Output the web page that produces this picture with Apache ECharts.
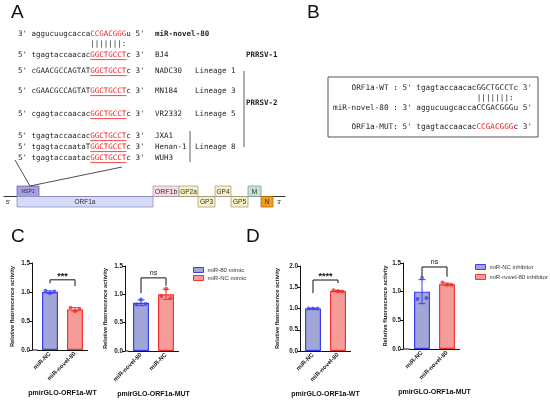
<!DOCTYPE html>
<html>
<head>
<meta charset="utf-8">
<script src="https://cdn.jsdelivr.net/npm/echarts@6.0.0/dist/echarts.min.js"></script>
<style>html,body{margin:0;padding:0;background:#fff;}#chart{width:550px;height:401px;}</style>
</head>
<body>
<div id="chart"></div>
<script>
// ---------------- Panel A: target-site alignment ----------------
const mirName = 'miR-novel-80';
const mirSeq = ['aggucuugcacca', 'CCGACGGG', 'u'];
const pairing = '|||||||:';
const strainNames = ['BJ4', 'NADC30', 'MN184', 'VR2332', 'JXA1', 'Henan-1', 'WUH3'];
const strainPrefix = ['tgagtaccaacac', 'cGAACGCCAGTAT', 'cGAACGCCAGTAT', 'cgagtaccaacac', 'tgagtaccaacac', 'tgagtaccaataT', 'tgagtaccaatac'];
const strainSite = 'GGCTGCCT';
const strainSuffix = 'c';
const strainLineage = ['', 'Lineage 1', 'Lineage 3', 'Lineage 5', '', 'Lineage 8', ''];
const genotypeLabels = ['PRRSV-1', 'PRRSV-2'];

// genome map (relative positions along the genome)
const geneNames = ['NSP1', 'ORF1a', 'ORF1b', 'GP2a', 'GP3', 'GP4', 'GP5', 'M', 'N'];
const geneStart = [13, 13, 149, 175, 194, 211, 227, 244, 257];
const geneEnd = [35, 149, 175, 194, 211, 227, 244, 257, 269];
const geneRow = [1, -1, 1, 1, -1, 1, -1, 1, -1];
const genomeLength = 281;

// ---------------- Panel B ----------------
const bTags = ['ORF1a-WT', 'miR-novel-80', 'ORF1a-MUT'];
const bEnds = [["5'", "3'"], ["3'", "5'"], ["5'", "3'"]];
const bSeq = [['tgagtaccaacac', 'GGCTGCCT', 'c'], ['aggucuugcacca', 'CCGACGGG', 'u'], ['tgagtaccaacac', 'CCGACGGG', 'c']];

// ---------------- Panel C ----------------
const cWtCats = ['miR-NC', 'miR-novel-80'];
const cWtMeans = [1.00, 0.70];
const cWtSD = [0.02, 0.03];
const cWtPoints = [[1.02, 0.98, 1.01], [0.73, 0.67, 0.71]];
const cWtSig = '***';
const cWtBracket = [1.21, 1.15, 1.10];

const cMutCats = ['miR-novel-80', 'miR-NC'];
const cMutMeans = [0.85, 1.00];
const cMutSD = [0.05, 0.09];
const cMutPoints = [[0.82, 0.91, 0.83], [0.97, 1.10, 0.93]];
const cMutSig = 'ns';
const cMutBracket = [1.29, 1.02, 1.15];

const cLegend = ['miR-80 mimic', 'miR-NC mimic'];
const cTitles = ['pmirGLO-ORF1a-WT', 'pmirGLO-ORF1a-MUT'];

// ---------------- Panel D ----------------
const dWtCats = ['miR-NC', 'miR-novel-80'];
const dWtMeans = [1.00, 1.41];
const dWtSD = [0.005, 0.015];
const dWtPoints = [[1.00, 1.00, 1.00], [1.43, 1.41, 1.40]];
const dWtSig = '****';
const dWtBracket = [1.67, 1.36, 1.60];

const dMutCats = ['miR-NC', 'miR-novel-80'];
const dMutMeans = [1.00, 1.13];
const dMutSD = [0.21, 0.02];
const dMutPoints = [[0.87, 1.24, 0.89], [1.16, 1.12, 1.12]];
const dMutSig = 'ns';
const dMutBracket = [1.43, 1.26, 1.26];

const dLegend = ['miR-NC inhibitor', 'miR-novel-80 inhibitor'];
const dTitles = ['pmirGLO-ORF1a-WT', 'pmirGLO-ORF1a-MUT'];

const yTitle = 'Relative fluorescence activity';

// ================= drawing =================
const SANS = '"Liberation Sans", Arial, sans-serif';
const MONO = '"DejaVu Sans Mono", "Liberation Mono", monospace';
const RED = '#f01a1a';
const INK = '#1e1e1e';
const BLUE_FILL = '#a0a7d6', BLUE_LINE = '#3d3df2', BLUE_DOT = '#4040f0';
const RED_FILL = '#f59c99', RED_LINE = '#f23434', RED_DOT = '#f02a2a';

function txt(x, y, text, o) {
  return { type: 'text', x: x, y: y, silent: true, z: 10,
    style: Object.assign({ text: text, fontSize: 7.5, fontFamily: MONO, fill: INK, align: 'left', verticalAlign: 'middle' }, o || {}) };
}
function ln(x1, y1, x2, y2, c, w) {
  return { type: 'line', silent: true, z: 10, shape: { x1: x1, y1: y1, x2: x2, y2: y2 }, style: { stroke: c || INK, lineWidth: w || 0.9 } };
}
function richMono(fs, bold) {
  const base = { fontSize: fs, fontFamily: MONO, fontWeight: bold ? 'bold' : 'normal' };
  return { a: Object.assign({ fill: INK }, base), r: Object.assign({ fill: RED }, base) };
}

const graphics = [];
// panel letters
graphics.push(txt(11, 13, 'A', { fontSize: 19, fontFamily: SANS, fill: '#111' }));
graphics.push(txt(307, 13, 'B', { fontSize: 19, fontFamily: SANS, fill: '#111' }));
graphics.push(txt(11, 237, 'C', { fontSize: 19, fontFamily: SANS, fill: '#111' }));
graphics.push(txt(246, 237, 'D', { fontSize: 19, fontFamily: SANS, fill: '#111' }));

// ---- Panel A text ----
const aX = 18, aCW = 4.515, aFS = 7.5;
graphics.push(txt(aX, 34, "{a|3' " + mirSeq[0] + '}{r|' + mirSeq[1] + '}{a|' + mirSeq[2] + " 5'}", { rich: richMono(aFS) }));
graphics.push(txt(155, 34, mirName, { fontWeight: 'bold' }));
graphics.push(txt(aX + 16 * aCW, 44, pairing, {}));
const aRowY = [55, 71, 91, 114, 136, 147, 158];
strainNames.forEach(function (n, i) {
  const y = aRowY[i];
  graphics.push(txt(aX, y, "{a|5' " + strainPrefix[i] + '}{r|' + strainSite + '}{a|' + strainSuffix + " 3'}", { rich: richMono(aFS) }));
  graphics.push(ln(aX + 16 * aCW, y + 4.6, aX + 24 * aCW, y + 4.6, RED, 0.8));
  graphics.push(txt(155, y, n, {}));
  if (strainLineage[i]) graphics.push(txt(195, y, strainLineage[i], {}));
});
graphics.push(txt(246, 55, genotypeLabels[0], { fontWeight: 'bold' }));
graphics.push(txt(246, 103, genotypeLabels[1], { fontWeight: 'bold' }));
graphics.push(ln(244, 71, 244, 147, '#333', 0.8));
graphics.push(ln(190, 131, 190, 162, '#333', 0.8));
// connectors from sequence block to NSP1
graphics.push(ln(15, 160, 30, 186, '#222', 0.8));
graphics.push(ln(122, 167, 30, 186, '#222', 0.8));
graphics.push(txt(6, 202, "5'", { fontSize: 6, fontFamily: SANS }));
graphics.push(txt(277, 202, "3'", { fontSize: 6, fontFamily: SANS }));

// ---- Panel B ----
const bX = 333, bCW = 4.635, bFS = 7.7;
graphics.push({ type: 'rect', silent: true, z: 9, shape: { x: 328, y: 77, width: 210, height: 60 }, style: { fill: '#fff', stroke: '#555', lineWidth: 1 } });
const bRowY = [88, 108, 127];
bTags.forEach(function (t, i) {
  const head = (t.length >= 12 ? t + ' ' : ('    ' + t + ' ').slice(0, 13)) + ': ' + bEnds[i][0] + ' ';
  const red = i === 2;
  const s = '{a|' + head + bSeq[i][0] + '}' + (red ? '{r|' : '{a|') + bSeq[i][1] + '}{a|' + bSeq[i][2] + ' ' + bEnds[i][1] + '}';
  graphics.push(txt(bX, bRowY[i], s, { rich: richMono(bFS), fontSize: bFS }));
});
graphics.push(txt(bX + 31 * bCW, 98, pairing, { fontSize: bFS }));

// ---- Panels C / D bar charts ----
const charts = [
  { cats: cWtCats, means: cWtMeans, sd: cWtSD, pts: cWtPoints, sig: cWtSig, br: cWtBracket, yMax: 1.5, left: 37.5, axisX: 32, top: 263, height: 87, nameGap: 17, title: cTitles[0], names: cLegend },
  { cats: cMutCats, means: cMutMeans, sd: cMutSD, pts: cMutPoints, sig: cMutSig, br: cMutBracket, yMax: 1.5, left: 128.5, axisX: 125, top: 266, height: 85, nameGap: 17, title: cTitles[1], names: cLegend },
  { cats: dWtCats, means: dWtMeans, sd: dWtSD, pts: dWtPoints, sig: dWtSig, br: dWtBracket, yMax: 2.0, left: 300.5, axisX: 300, top: 266, height: 85, nameGap: 20, title: dTitles[0], names: dLegend },
  { cats: dMutCats, means: dMutMeans, sd: dMutSD, pts: dMutPoints, sig: dMutSig, br: dMutBracket, yMax: 1.5, left: 409.5, axisX: 403, top: 263, height: 86, nameGap: 15, title: dTitles[1], names: dLegend }
];

const grids = [], xAxes = [], yAxes = [], series = [];
const dotOffsets = [-4.5, 0, 4.5];
const lineCols = [BLUE_LINE, RED_LINE];

charts.forEach(function (c, k) {
  grids.push({ left: c.left, top: c.top, width: 50, height: c.height });
  graphics.push(ln(c.axisX, c.top + c.height, c.left, c.top + c.height, '#111', 1));
  xAxes.push({
    type: 'category', gridIndex: k, data: c.cats,
    axisLine: { lineStyle: { color: '#111', width: 1 } },
    axisTick: { alignWithLabel: true, length: 3, lineStyle: { color: '#111' } },
    axisLabel: { rotate: 45, interval: 0, fontSize: 6, fontWeight: 'bold', fontFamily: SANS, color: '#222', margin: 3 },
    name: c.title, nameLocation: 'middle', nameGap: 40,
    nameTextStyle: { fontSize: 7, fontWeight: 'bold', fontFamily: SANS, color: '#111' }
  });
  yAxes.push({
    type: 'value', gridIndex: k, min: 0, max: c.yMax, interval: 0.5, offset: c.left - c.axisX,
    axisLine: { show: true, lineStyle: { color: '#111', width: 1 } },
    axisTick: { show: true, length: 3, lineStyle: { color: '#111' } },
    axisLabel: { fontSize: 6.3, fontWeight: 'bold', fontFamily: SANS, color: '#222', margin: 2, formatter: function (v) { return v.toFixed(1); } },
    splitLine: { show: false },
    name: yTitle, nameLocation: 'middle', nameGap: c.nameGap,
    nameTextStyle: { fontSize: 5.8, fontWeight: 'bold', fontFamily: SANS, color: '#222' }
  });
  [0, 1].forEach(function (b) {
    series.push({
      type: 'bar', name: c.names[b], xAxisIndex: k, yAxisIndex: k, barWidth: 16, barGap: '-100%', silent: true, z: 2,
      data: c.means.map(function (v, i) { return i === b ? v : '-'; }),
      itemStyle: { color: b === 0 ? BLUE_FILL : RED_FILL, borderColor: b === 0 ? BLUE_LINE : RED_LINE, borderWidth: 1.2 }
    });
  });
  series.push({
    type: 'custom', xAxisIndex: k, yAxisIndex: k, silent: true, z: 3,
    data: c.means.map(function (m, i) { return [i, m - c.sd[i], m + c.sd[i]]; }),
    renderItem: function (params, api) {
      const lo = api.coord([api.value(0), api.value(1)]);
      const hi = api.coord([api.value(0), api.value(2)]);
      const col = lineCols[params.dataIndex];
      const st = { stroke: col, lineWidth: 1 };
      return { type: 'group', children: [
        { type: 'line', shape: { x1: lo[0], y1: lo[1], x2: hi[0], y2: hi[1] }, style: st },
        { type: 'line', shape: { x1: hi[0] - 3.5, y1: hi[1], x2: hi[0] + 3.5, y2: hi[1] }, style: st },
        { type: 'line', shape: { x1: lo[0] - 3.5, y1: lo[1], x2: lo[0] + 3.5, y2: lo[1] }, style: st }
      ] };
    }
  });
  const dots = [];
  c.pts.forEach(function (arr, i) {
    arr.forEach(function (v, j) {
      dots.push({ value: [i, v], symbolOffset: [dotOffsets[j], 0], itemStyle: { color: i === 0 ? BLUE_DOT : RED_DOT } });
    });
  });
  series.push({ type: 'scatter', xAxisIndex: k, yAxisIndex: k, symbolSize: 4, silent: true, z: 4, data: dots });
  series.push({
    type: 'custom', xAxisIndex: k, yAxisIndex: k, silent: true, z: 5,
    data: [[0, 1, c.br[0], c.br[1], c.br[2]]],
    renderItem: function (params, api) {
      const pl = api.coord([api.value(0), api.value(3)]);
      const pr = api.coord([api.value(1), api.value(4)]);
      const yt = api.coord([api.value(0), api.value(2)])[1];
      const isStar = c.sig.indexOf('*') >= 0;
      return { type: 'group', children: [
        { type: 'polyline', shape: { points: [[pl[0], pl[1]], [pl[0], yt], [pr[0], yt], [pr[0], pr[1]]] }, style: { stroke: '#111', lineWidth: 1, fill: null } },
        { type: 'text', x: (pl[0] + pr[0]) / 2, y: yt - (isStar ? -1 : 1.5),
          style: { text: c.sig, align: 'center', verticalAlign: 'bottom', fontSize: isStar ? 9 : 7, fontWeight: isStar ? 'bold' : 'normal', fontFamily: SANS, fill: '#111' } }
      ] };
    }
  });
});

// genome map grid
grids.push({ left: 4, top: 186, width: genomeLength, height: 21 });
xAxes.push({ type: 'value', gridIndex: 4, min: 0, max: genomeLength, axisLine: { show: true, onZero: true, lineStyle: { color: '#333', width: 1 } }, axisTick: { show: false }, axisLabel: { show: false }, splitLine: { show: false } });
yAxes.push({ type: 'value', gridIndex: 4, min: -1, max: 1, show: false, splitLine: { show: false } });
const geneStyle = {
  NSP1: { fill: '#a89fe3', stroke: '#6f68b0', fs: 5 },
  ORF1a: { fill: '#d6d9f7', stroke: '#8d91c2', fs: 6.5 },
  ORF1b: { fill: '#f9dbea', stroke: '#b89cad', fs: 7 },
  GP2a: { fill: '#f6f1c8', stroke: '#aaa37c', fs: 6.5 },
  GP3: { fill: '#f6f1c8', stroke: '#aaa37c', fs: 6.5 },
  GP4: { fill: '#f6f1c8', stroke: '#aaa37c', fs: 6.5 },
  GP5: { fill: '#f6f1c8', stroke: '#aaa37c', fs: 6.5 },
  M: { fill: '#c5e2d3', stroke: '#7fa595', fs: 7 },
  N: { fill: '#f39b1e', stroke: '#b86c05', fs: 7 }
};
series.push({
  type: 'custom', xAxisIndex: 4, yAxisIndex: 4, silent: true, z: 3,
  data: geneNames.map(function (n, i) { return [geneStart[i], geneEnd[i], geneRow[i]]; }),
  renderItem: function (params, api) {
    const row = api.value(2);
    const p0 = api.coord([api.value(0), row > 0 ? 1 : 0]);
    const p1 = api.coord([api.value(1), row > 0 ? 0 : -1]);
    const name = geneNames[params.dataIndex];
    const st = geneStyle[name];
    return { type: 'group', children: [
      { type: 'rect', shape: { x: p0[0], y: p0[1], width: p1[0] - p0[0], height: p1[1] - p0[1] }, style: { fill: st.fill, stroke: st.stroke, lineWidth: 0.8 } },
      { type: 'text', x: (p0[0] + p1[0]) / 2, y: (p0[1] + p1[1]) / 2 + 0.5,
        style: { text: name, align: 'center', verticalAlign: 'middle', fontSize: st.fs, fontFamily: SANS, fill: '#333' } }
    ] };
  }
});

function legendData(names) {
  return names.map(function (n, i) {
    return { name: n, itemStyle: { color: i === 0 ? BLUE_FILL : RED_FILL, borderColor: i === 0 ? BLUE_LINE : RED_LINE, borderWidth: 1 } };
  });
}

const option = {
  animation: false,
  backgroundColor: '#fff',
  grid: grids, xAxis: xAxes, yAxis: yAxes, series: series,
  legend: [
    { left: 193, top: 267, orient: 'vertical', icon: 'rect', itemWidth: 10, itemHeight: 5, itemGap: 2, padding: 0, selectedMode: false,
      data: legendData(cLegend), textStyle: { fontSize: 6, fontFamily: SANS, color: '#333', padding: [0, 0, 0, -1] } },
    { left: 475, top: 264, orient: 'vertical', icon: 'rect', itemWidth: 10, itemHeight: 5, itemGap: 4, padding: 0, selectedMode: false,
      data: legendData(dLegend), textStyle: { fontSize: 6, fontFamily: SANS, color: '#333', padding: [0, 0, 0, -1] } }
  ],
  graphic: { elements: graphics }
};

const chart = echarts.init(document.getElementById('chart'), null, { renderer: 'canvas' });
chart.setOption(option);
</script>
</body>
</html>
